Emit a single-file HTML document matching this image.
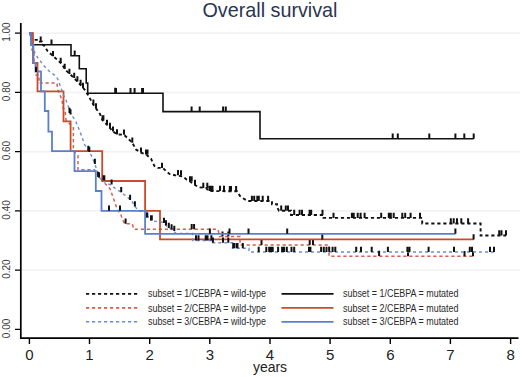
<!DOCTYPE html>
<html><head><meta charset="utf-8"><style>
html,body{margin:0;padding:0;background:#fff;}
body{width:520px;height:377px;overflow:hidden;}
svg{display:block;font-family:"Liberation Sans",sans-serif;}
</style></head><body>
<svg width="520" height="377" viewBox="0 0 520 377">
<rect width="520" height="377" fill="#fff"/>
<line x1="21" y1="33.1" x2="520" y2="33.1" stroke="#f2f3f5" stroke-width="1.6"/>
<line x1="21" y1="92.4" x2="520" y2="92.4" stroke="#f2f3f5" stroke-width="1.6"/>
<line x1="21" y1="151.6" x2="520" y2="151.6" stroke="#f2f3f5" stroke-width="1.6"/>
<line x1="21" y1="210.9" x2="520" y2="210.9" stroke="#f2f3f5" stroke-width="1.6"/>
<line x1="21" y1="270.1" x2="520" y2="270.1" stroke="#f2f3f5" stroke-width="1.6"/>
<polyline points="29.4,33.1 31.0,33.1 31.0,39.9 38.5,39.9 38.5,41.6 42.0,41.6 42.0,44.3 44.0,45.5 47.5,51.0 53.0,56.0 60.8,63.0 66.2,70.6 74.0,78.0 80.6,85.0 85.0,90.0 88.0,95.0 93.4,104.7 96.0,108.4 100.0,114.0 102.6,120.5 107.3,125.0 113.0,131.6 117.5,134.4 124.0,134.8 128.6,139.0 132.3,142.8 136.0,149.5 141.0,152.6 146.3,154.6 151.0,158.6 154.3,165.9 157.6,167.9 162.9,167.9 166.2,171.2 169.5,173.9 174.8,175.2 182.8,176.5 186.8,179.8 190.1,181.5 195.0,185.0 199.0,187.3 206.0,188.0 209.0,191.0 237.0,191.3 240.0,196.0 243.0,198.3 248.0,201.0 272.0,201.0 272.0,204.2 277.0,204.2 277.0,207.0 279.0,210.8 291.0,210.8 291.0,215.0 323.5,215.0 323.5,217.9 422.2,217.9 422.2,223.5 480.6,223.5 480.6,235.5 506.0,235.5" fill="none" stroke="#111111" stroke-width="1.9" stroke-dasharray="3.2,2.8" stroke-linejoin="miter" stroke-linecap="butt"/>
<path d="M40.7 41.6v-5.2 M53.0 56.3v-5.2 M60.7 63.0v-5.2 M64.7 69.0v-5.2 M69.4 74.0v-5.2 M74.2 78.0v-5.2 M77.4 81.5v-5.2 M80.6 85.0v-5.2 M83.0 88.0v-5.2 M93.4 104.7v-5.2 M96.0 108.4v-5.2 M102.6 120.5v-5.2 M103.4 120.5v-5.2 M107.0 125.0v-5.2 M110.0 128.0v-5.2 M113.0 131.6v-5.2 M117.0 134.4v-5.2 M124.0 134.8v-5.2 M132.3 142.8v-5.2 M141.0 152.6v-5.2 M146.0 154.6v-5.2 M147.5 154.6v-5.2 M162.0 167.9v-5.2 M178.0 175.2v-5.2 M181.0 175.5v-5.2 M190.0 181.5v-5.2 M191.7 181.5v-5.2 M195.0 185.0v-5.2 M203.3 188.0v-5.2 M207.3 188.0v-5.2 M209.5 191.0v-5.2 M211.0 191.0v-5.2 M212.5 191.0v-5.2 M220.0 191.0v-5.2 M224.0 191.0v-5.2 M229.8 191.3v-5.2 M231.0 191.3v-5.2 M236.1 191.3v-5.2 M251.9 201.0v-5.2 M254.2 201.0v-5.2 M257.3 201.0v-5.2 M258.8 201.0v-5.2 M262.7 201.0v-5.2 M268.1 201.0v-5.2 M281.2 210.8v-5.2 M285.8 210.8v-5.2 M288.0 210.8v-5.2 M294.2 215.0v-5.2 M299.6 215.0v-5.2 M302.0 215.0v-5.2 M309.6 215.0v-5.2 M311.2 215.0v-5.2 M322.5 215.0v-5.2 M333.5 217.9v-5.2 M351.9 217.9v-5.2 M352.8 217.9v-5.2 M353.7 217.9v-5.2 M357.7 217.9v-5.2 M360.6 217.9v-5.2 M364.6 217.9v-5.2 M381.2 217.9v-5.2 M388.8 217.9v-5.2 M390.8 217.9v-5.2 M393.7 217.9v-5.2 M402.3 217.9v-5.2 M405.2 217.9v-5.2 M410.6 217.9v-5.2 M420.0 217.9v-5.2 M450.8 223.5v-5.2 M453.7 223.5v-5.2 M457.0 223.5v-5.2 M461.3 223.5v-5.2 M468.1 223.5v-5.2 M499.2 235.5v-5.2 M501.5 235.5v-5.2 M506.0 235.5v-5.2" stroke="#111111" stroke-width="2.0" fill="none"/>
<polyline points="29.4,33.1 31.5,33.1 31.5,44.8 71.0,44.8 71.0,55.8 79.3,55.8 79.3,68.8 86.2,68.8 86.2,83.0 87.7,83.0 87.7,93.3 163.0,93.3 163.0,111.6 260.0,111.6 260.0,138.7 473.7,138.7" fill="none" stroke="#111111" stroke-width="1.6" stroke-linejoin="miter" stroke-linecap="butt"/>
<path d="M51.5 44.8v-5.2 M74.7 55.8v-5.2 M115.2 93.3v-5.5 M116.0 93.3v-5.2 M130.5 93.3v-5.2 M134.6 93.3v-5.2 M142.1 93.3v-5.2 M143.0 93.3v-5.2 M191.6 111.6v-5.2 M199.7 111.6v-5.2 M223.1 111.6v-5.2 M225.8 111.6v-5.2 M392.7 138.7v-5.2 M397.8 138.7v-5.2 M429.3 138.7v-5.2 M455.4 138.7v-5.2 M464.3 138.7v-5.2 M473.7 138.7v-5.2" stroke="#111111" stroke-width="2.0" fill="none"/>
<polyline points="29.4,33.1 32.0,33.1 32.0,50.0 34.0,50.0 34.0,63.0 36.0,63.0 36.0,75.0 39.0,75.0 39.0,83.0 56.8,83.0 58.0,90.0 60.0,95.0 62.0,100.0 63.0,108.0 65.0,110.0 66.0,120.0 73.4,127.8 73.4,151.0 78.0,155.7 78.0,169.7 94.3,169.7 100.0,178.0 106.0,184.5 110.0,188.8 115.3,203.6 117.4,210.0 120.6,213.7 122.0,218.3 124.7,223.8 132.1,223.8 134.0,229.3 218.0,229.3 219.6,236.6 240.0,236.6 240.0,244.9 329.0,244.9 329.0,256.2 473.0,256.2" fill="none" stroke="#d4604a" stroke-width="1.5" stroke-dasharray="3.2,2.8" stroke-linejoin="miter" stroke-linecap="butt"/>
<path d="M125.6 223.8v-5.2 M191.7 229.3v-5.2 M194.1 229.3v-5.2 M222.5 236.6v-5.2 M228.3 236.6v-5.2 M261.5 244.9v-5.2 M309.7 244.9v-5.2 M313.0 244.9v-5.2 M408.0 256.2v-5.2 M464.5 256.2v-5.2 M473.0 256.2v-5.2" stroke="#111111" stroke-width="2.0" fill="none"/>
<polyline points="29.4,33.1 33.0,33.1 33.0,63.0 37.5,63.0 37.5,91.4 63.5,91.4 63.5,121.4 70.6,121.4 70.6,151.1 102.2,151.1 102.2,181.0 145.1,181.0 145.1,210.8 160.0,210.8 160.0,239.4 473.6,239.4" fill="none" stroke="#cc4a2a" stroke-width="1.8" stroke-linejoin="miter" stroke-linecap="butt"/>
<path d="M322.3 239.4v-5.2 M473.6 239.4v-5.2" stroke="#111111" stroke-width="2.0" fill="none"/>
<polyline points="29.4,33.1 31.0,40.0 33.5,50.0 37.5,57.3 43.9,65.8 50.5,72.5 55.5,75.7 57.7,79.0 59.2,83.0 61.0,88.0 63.0,94.0 66.4,101.0 70.6,113.0 76.0,122.0 80.0,131.6 84.6,144.6 89.3,151.0 94.9,163.9 98.9,177.0 104.6,182.0 111.6,185.5 115.0,188.3 121.2,192.3 124.0,194.6 127.5,196.7 130.1,200.0 131.5,200.5 134.9,206.5 138.6,211.0 143.7,211.5 146.5,212.0 146.5,217.0 151.0,217.0 151.0,220.4 152.0,221.4 160.0,221.4 164.0,223.0 166.0,225.5 169.0,228.0 172.0,229.5 176.0,233.4 192.7,233.4 192.7,240.5 212.0,240.5 212.0,242.7 232.5,242.7 232.5,248.2 249.0,248.2 249.0,252.0 495.0,252.0" fill="none" stroke="#6a8cd2" stroke-width="1.4" stroke-dasharray="3,3" stroke-linejoin="miter" stroke-linecap="butt"/>
<path d="M69.5 113.0v-5.2 M70.5 114.5v-5.2 M88.3 151.0v-5.2 M89.3 152.0v-5.2 M94.9 163.9v-5.2 M98.1 177.0v-5.2 M99.0 177.5v-5.2 M103.5 180.5v-5.2 M104.3 180.5v-5.2 M111.6 184.6v-5.2 M121.2 192.3v-5.2 M130.1 200.0v-5.2 M134.9 206.5v-5.2 M146.5 217.6v-5.2 M147.3 217.6v-5.2 M151.0 220.4v-5.2 M151.8 220.4v-5.2 M164.0 223.0v-5.2 M166.0 225.5v-5.2 M168.8 228.0v-5.2 M171.6 229.5v-5.2 M174.3 231.0v-5.2 M196.0 240.5v-5.2 M198.5 240.5v-5.2 M205.7 240.5v-5.2 M206.6 240.5v-5.2 M207.5 240.5v-5.2 M211.4 240.5v-5.2 M212.9 242.7v-5.2 M223.0 242.7v-5.2 M228.3 242.7v-5.2 M233.2 248.2v-5.2 M234.0 248.2v-5.2 M236.5 248.2v-5.2 M237.5 248.2v-5.2 M242.8 248.2v-5.2 M258.7 252.0v-5.2 M266.3 252.0v-5.2 M269.2 252.0v-5.2 M270.7 252.0v-5.2 M272.7 252.0v-5.2 M278.1 252.0v-5.2 M282.1 252.0v-5.2 M284.1 252.0v-5.2 M286.8 252.0v-5.2 M291.5 252.0v-5.2 M294.2 252.0v-5.2 M309.0 252.0v-5.2 M310.4 252.0v-5.2 M321.1 252.0v-5.2 M323.8 252.0v-5.2 M326.5 252.0v-5.2 M329.2 252.0v-5.2 M332.6 252.0v-5.2 M335.3 252.0v-5.2 M356.2 252.0v-5.2 M361.0 252.0v-5.2 M371.7 252.0v-5.2 M379.1 256.0v-5.2 M387.9 252.0v-5.2 M407.4 252.0v-5.2 M409.5 252.0v-5.2 M428.6 252.0v-5.2 M454.0 252.0v-5.2 M469.8 252.0v-5.2 M472.0 252.0v-5.2 M490.0 252.0v-5.2 M494.0 252.0v-5.2" stroke="#111111" stroke-width="2.0" fill="none"/>
<polyline points="29.4,33.1 31.0,33.1 31.0,45.0 33.4,45.0 33.4,63.0 35.5,63.0 35.5,71.5 41.0,71.5 41.0,91.4 44.8,91.4 44.8,111.0 48.4,111.0 48.4,131.6 52.0,131.6 52.0,151.1 74.5,151.1 74.5,171.1 95.8,171.1 95.8,191.0 101.5,191.0 101.5,210.8 145.1,210.8 145.1,233.8 455.4,233.8" fill="none" stroke="#5a80cc" stroke-width="1.8" stroke-linejoin="miter" stroke-linecap="butt"/>
<path d="M36.0 72.0v-5.2 M109.0 210.8v-5.2 M120.0 210.8v-5.2 M209.9 233.8v-5.2 M229.5 233.8v-5.2 M248.5 233.8v-5.2 M287.2 233.8v-5.2 M455.4 233.8v-5.2" stroke="#111111" stroke-width="2.0" fill="none"/>
<path d="M20.8 23 V338.2 H518.5" stroke="#000" stroke-width="1.7" fill="none"/>
<path d="M15 329.4H20.8 M15 270.1H20.8 M15 210.9H20.8 M15 151.6H20.8 M15 92.4H20.8 M15 33.1H20.8" stroke="#000" stroke-width="1.4"/>
<path d="M29.4 338.2V344 M89.5 338.2V344 M149.7 338.2V344 M209.8 338.2V344 M270.0 338.2V344 M330.1 338.2V344 M390.3 338.2V344 M450.4 338.2V344 M510.6 338.2V344" stroke="#000" stroke-width="1.4"/>
<g font-size="10" fill="#3a3a3a"><text x="0" y="0" transform="translate(9.6 328.4) rotate(-90)" text-anchor="middle">0.00</text><text x="0" y="0" transform="translate(9.6 269.1) rotate(-90)" text-anchor="middle">0.20</text><text x="0" y="0" transform="translate(9.6 209.9) rotate(-90)" text-anchor="middle">0.40</text><text x="0" y="0" transform="translate(9.6 150.6) rotate(-90)" text-anchor="middle">0.60</text><text x="0" y="0" transform="translate(9.6 91.4) rotate(-90)" text-anchor="middle">0.80</text><text x="0" y="0" transform="translate(9.6 32.1) rotate(-90)" text-anchor="middle">1.00</text></g>
<g font-size="15" fill="#222"><text x="29.4" y="359.6" text-anchor="middle">0</text><text x="89.5" y="359.6" text-anchor="middle">1</text><text x="149.7" y="359.6" text-anchor="middle">2</text><text x="209.8" y="359.6" text-anchor="middle">3</text><text x="270.0" y="359.6" text-anchor="middle">4</text><text x="330.1" y="359.6" text-anchor="middle">5</text><text x="390.3" y="359.6" text-anchor="middle">6</text><text x="450.4" y="359.6" text-anchor="middle">7</text><text x="510.6" y="359.6" text-anchor="middle">8</text></g>
<text x="270" y="371.5" text-anchor="middle" font-size="14" fill="#222">years</text>
<text x="270" y="16.5" text-anchor="middle" font-size="20.6" fill="#2a3454" textLength="135" lengthAdjust="spacingAndGlyphs">Overall survival</text>
<g font-size="10" fill="#2a2a2a"><line x1="86" y1="293.8" x2="139.5" y2="293.8" stroke="#111111" stroke-width="1.7" stroke-dasharray="3.2,2.8"/><text x="148" y="297.4" textLength="118" lengthAdjust="spacingAndGlyphs">subset = 1/CEBPA = wild-type</text><line x1="281.5" y1="293.8" x2="333.5" y2="293.8" stroke="#111111" stroke-width="1.7"/><text x="343" y="297.4" textLength="115.5" lengthAdjust="spacingAndGlyphs">subset = 1/CEBPA = mutated</text><line x1="86" y1="307.9" x2="139.5" y2="307.9" stroke="#d4604a" stroke-width="1.6" stroke-dasharray="3.2,2.8"/><text x="148" y="311.5" textLength="118" lengthAdjust="spacingAndGlyphs">subset = 2/CEBPA = wild-type</text><line x1="281.5" y1="307.9" x2="333.5" y2="307.9" stroke="#cc4a2a" stroke-width="1.7"/><text x="343" y="311.5" textLength="115.5" lengthAdjust="spacingAndGlyphs">subset = 2/CEBPA = mutated</text><line x1="86" y1="321.8" x2="139.5" y2="321.8" stroke="#6a8cd2" stroke-width="1.4" stroke-dasharray="3.2,2.8"/><text x="148" y="325.4" textLength="118" lengthAdjust="spacingAndGlyphs">subset = 3/CEBPA = wild-type</text><line x1="281.5" y1="321.8" x2="333.5" y2="321.8" stroke="#5a80cc" stroke-width="1.7"/><text x="343" y="325.4" textLength="115.5" lengthAdjust="spacingAndGlyphs">subset = 3/CEBPA = mutated</text></g>
</svg>
</body></html>
